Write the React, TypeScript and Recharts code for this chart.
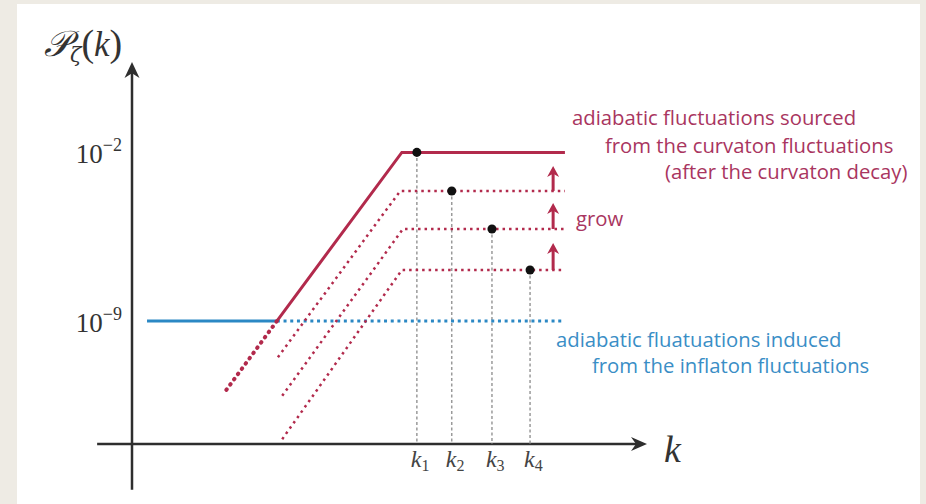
import React from "react";
import { ComposedChart, Line, Scatter, XAxis, YAxis, ReferenceLine, ReferenceDot } from "recharts";

// x = log10 k (arbitrary origin at the P axis), y = log10 P_zeta
const mainCurve = [
  { x: 2.7, y: -9 },
  { x: 5.03, y: -2 },
  { x: 8.07, y: -2 },
];
const mainTail = [
  { x: 1.76, y: -11.85 },
  { x: 2.7, y: -9 },
];
const inflatonSolid = [
  { x: 0.28, y: -9 },
  { x: 2.7, y: -9 },
];
const inflatonDotted = [
  { x: 2.7, y: -9 },
  { x: 8.07, y: -9 },
];
const earlyCurve2 = [
  { x: 2.72, y: -10.5 },
  { x: 5.0, y: -3.6 },
  { x: 8.07, y: -3.6 },
];
const earlyCurve3 = [
  { x: 2.8, y: -12.1 },
  { x: 5.05, y: -5.18 },
  { x: 8.07, y: -5.18 },
];
const earlyCurve4 = [
  { x: 2.8, y: -13.9 },
  { x: 5.03, y: -6.88 },
  { x: 8.07, y: -6.88 },
];

const kNames = ["1", "2", "3", "4"];
const kExit = [5.31, 5.96, 6.71, 7.42];
const kPower = [-2, -3.6, -5.18, -6.88];

const arrowX = 7.85;
const arrowFrom = [-3.6, -5.18, -6.88];
const arrowTo = [-2.57, -4.1, -5.76];

const yTicks = [-2, -9];
const yTickExp = ["−2", "−9"];

const X_MIN = 0;
const X_MAX = 9.6;
const Y_MIN = -14.1;
const Y_MAX = 1.75;

const RED = "#b22a4c";
const RED_TEXT = "#a93560";
const BLUE = "#2b88c4";
const BLUE_TEXT = "#3a8ec6";
const AXIS = "#2e2e2e";

const exitPoints = kExit.map((x, i) => ({ x, y: kPower[i] }));

const KTick = (props: any) => {
  const { x, y, payload } = props;
  const i = kExit.indexOf(payload.value);
  return (
    <text x={x - 6} y={y + 23} fontFamily="Liberation Serif" fill="#444" fontSize={24}>
      <tspan fontStyle="italic">k</tspan>
      <tspan fontSize={16} dy={4}>{kNames[i]}</tspan>
    </text>
  );
};

const PTick = (props: any) => {
  const { x, y, payload } = props;
  const i = yTicks.indexOf(payload.value);
  return (
    <text x={x} y={y + 11} textAnchor="end" fontFamily="Liberation Serif" fill="#333" fontSize={27}>
      10
      <tspan fontSize={18} dy={-12}>{yTickExp[i]}</tspan>
    </text>
  );
};

const upHead = (color: string, w: number, h: number) => (props: any) => {
  const { cx, cy } = props;
  return (
    <polygon
      points={`${cx},${cy} ${cx - w / 2},${cy + h} ${cx},${cy + h * 0.7} ${cx + w / 2},${cy + h}`}
      fill={color}
    />
  );
};

const rightHead = (props: any) => {
  const { cx, cy } = props;
  return <polygon points={`${cx},${cy} ${cx - 16},${cy - 7} ${cx - 11},${cy} ${cx - 16},${cy + 7}`} fill={AXIS} />;
};

export default function App() {
  return (
    <div style={{ position: "absolute", left: 0, top: 0, width: 926, height: 504, background: "#eeebe4" }}>
      <div style={{ position: "absolute", left: 17, top: 4, width: 903, height: 500, background: "#ffffff" }} />
      <div style={{ position: "absolute", left: 0, top: 0 }}>
        <ComposedChart width={926} height={504} margin={{ top: 62, right: 279, bottom: 20, left: 72 }}>
          <XAxis
            type="number"
            dataKey="x"
            domain={[X_MIN, X_MAX]}
            ticks={kExit}
            axisLine={false}
            tickLine={false}
            tickSize={0}
            tickMargin={0}
            height={40}
            tick={KTick}
            interval={0}
          />
          <YAxis
            type="number"
            dataKey="y"
            domain={[Y_MIN, Y_MAX]}
            ticks={yTicks}
            axisLine={false}
            tickLine={false}
            tickSize={0}
            tickMargin={10}
            width={60}
            tick={PTick}
            interval={0}
          />

          {/* axes */}
          <ReferenceLine segment={[{ x: -0.65, y: Y_MIN }, { x: X_MAX - 0.15, y: Y_MIN }]} stroke={AXIS} strokeWidth={2.5} ifOverflow="visible" />
          <ReferenceLine segment={[{ x: 0, y: -16 }, { x: 0, y: Y_MAX - 0.4 }]} stroke={AXIS} strokeWidth={2.5} ifOverflow="visible" />
          <ReferenceDot x={X_MAX} y={Y_MIN} shape={rightHead} ifOverflow="visible" />
          <ReferenceDot x={0} y={Y_MAX} shape={upHead(AXIS, 15, 16)} ifOverflow="visible" />

          {/* horizon exit markers */}
          {kExit.map((k, i) => (
            <ReferenceLine
              key={`v${i}`}
              segment={[{ x: k, y: kPower[i] }, { x: k, y: Y_MIN }]}
              stroke="#9a9a9a"
              strokeWidth={1.5}
              strokeDasharray="3 2.5"
              ifOverflow="visible"
            />
          ))}

          <Line data={inflatonSolid} dataKey="y" type="linear" stroke={BLUE} strokeWidth={3} dot={false} isAnimationActive={false} />
          <Line data={inflatonDotted} dataKey="y" type="linear" stroke={BLUE} strokeWidth={3} strokeDasharray="3 3.7" dot={false} isAnimationActive={false} />

          <Line data={earlyCurve2} dataKey="y" type="linear" stroke={RED} strokeWidth={2.5} strokeDasharray="2.5 4" dot={false} isAnimationActive={false} />
          <Line data={earlyCurve3} dataKey="y" type="linear" stroke={RED} strokeWidth={2.5} strokeDasharray="2.5 4" dot={false} isAnimationActive={false} />
          <Line data={earlyCurve4} dataKey="y" type="linear" stroke={RED} strokeWidth={2.5} strokeDasharray="2.5 4" dot={false} isAnimationActive={false} />

          <Line data={mainTail} dataKey="y" type="linear" stroke={RED} strokeWidth={4} strokeLinecap="round" strokeDasharray="0.5 6" dot={false} isAnimationActive={false} />
          <Line data={mainCurve} dataKey="y" type="linear" stroke={RED} strokeWidth={3} dot={false} isAnimationActive={false} />

          {arrowFrom.map((y0, i) => (
            <ReferenceLine
              key={`a${i}`}
              segment={[{ x: arrowX, y: y0 }, { x: arrowX, y: arrowTo[i] - 0.25 }]}
              stroke={RED}
              strokeWidth={3}
              ifOverflow="visible"
            />
          ))}
          {arrowTo.map((y1, i) => (
            <ReferenceDot key={`h${i}`} x={arrowX} y={y1} shape={upHead(RED, 12, 11)} ifOverflow="visible" />
          ))}

          <Scatter data={exitPoints} fill="#111111" isAnimationActive={false} />

          {/* labels */}
          <text x={44} y={56} fontFamily="DejaVu Serif" fontStyle="italic" fontSize={36} fill="#333">
            𝒫
            <tspan fontSize={21} dy={6}>ζ</tspan>
            <tspan fontFamily="Liberation Serif" fontStyle="normal" fontSize={38} dy={-6}>(</tspan>
            <tspan fontFamily="Liberation Serif" fontSize={35}>k</tspan>
            <tspan fontFamily="Liberation Serif" fontStyle="normal" fontSize={38}>)</tspan>
          </text>
          <text x={664} y={462} fontFamily="Liberation Serif" fontStyle="italic" fontSize={38} fill="#333">k</text>

          <g fontFamily="Open Sans" fontSize={20.3} fill={RED_TEXT}>
            <text x={572} y={125}>adiabatic fluctuations sourced</text>
            <text x={605} y={153}>from the curvaton fluctuations</text>
            <text x={665} y={179}>(after the curvaton decay)</text>
            <text x={576} y={226}>grow</text>
          </g>
          <g fontFamily="Open Sans" fontSize={20.3} fill={BLUE_TEXT}>
            <text x={556} y={347}>adiabatic fluatuations induced</text>
            <text x={592} y={373}>from the inflaton fluctuations</text>
          </g>
        </ComposedChart>
      </div>
    </div>
  );
}
